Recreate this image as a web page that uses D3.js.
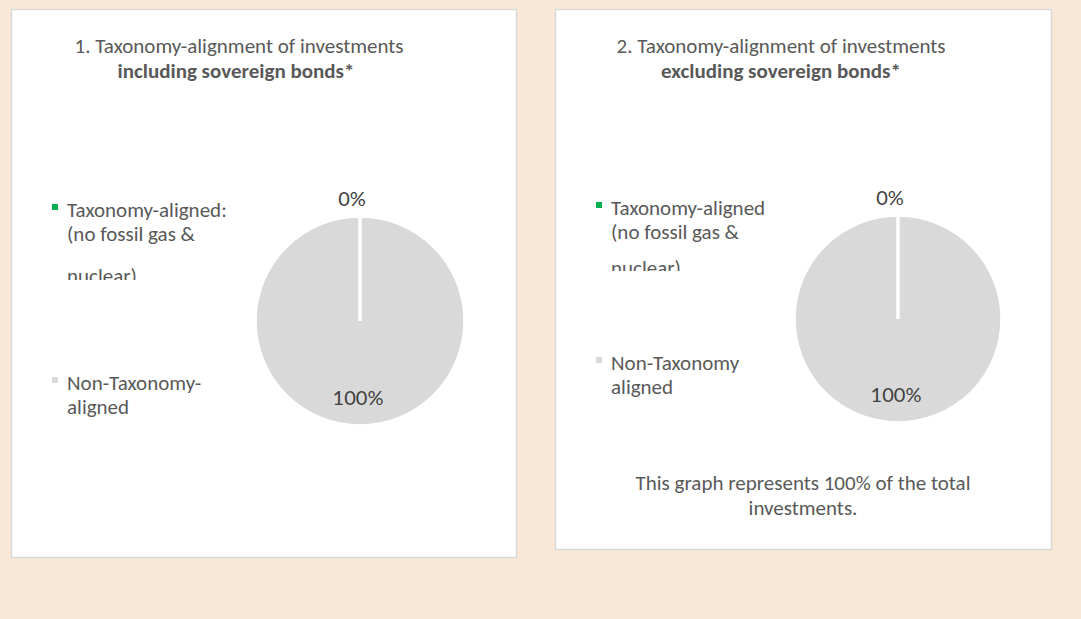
<!DOCTYPE html>
<html>
<head>
<meta charset="utf-8">
<script src="https://cdn.jsdelivr.net/npm/d3@7"></script>
<style>
  html, body { margin: 0; padding: 0; background: #FAE8D7; }
  svg { display: block; }
  text { font-family: Carlito, Calibri, Lato, sans-serif; fill: #595959; }
</style>
</head>
<body>
<svg id="chart" width="1081" height="619"></svg>
<script>

// Chart data
const panelTitles = ["1. Taxonomy-alignment of investments", "2. Taxonomy-alignment of investments"];
const panelSubtitles = ["including sovereign bonds*", "excluding sovereign bonds*"];
const categories = ["Taxonomy-aligned (no fossil gas & nuclear)", "Non-Taxonomy-aligned"];
const valuesIncluding = [0, 100];
const valuesExcluding = [0, 100];
const legendLinesIncluding = [["Taxonomy-aligned:", "(no fossil gas &", "nuclear)"], ["Non-Taxonomy-", "aligned"]];
const legendLinesExcluding = [["Taxonomy-aligned", "(no fossil gas &", "nuclear)"], ["Non-Taxonomy", "aligned"]];
const sliceColours = ["#00B050", "#D9D9D9"];
const footnoteLines = ["This graph represents 100% of the total", "investments."];

// Layout of the two panels
const panels = [
    {
        box: {x: 11, y: 9, w: 505, h: 548},
        title: {x: 239, y: 53}, subtitle: {x: 236, y: 78},
        pie: {cx: 360, cy: 321, r: 105},
        legend: {x: 52, textX: 67, items: [{y: 217, gaps: [0, 24, 66], clip: 280}, {y: 390, gaps: [0, 24]}]},
        values: valuesIncluding, legend_lines: legendLinesIncluding,
        title_text: panelTitles[0], subtitle_text: panelSubtitles[0], footnote: null
    },
    {
        box: {x: 555, y: 9, w: 496, h: 540},
        title: {x: 781, y: 53}, subtitle: {x: 781, y: 78},
        pie: {cx: 898, cy: 319, r: 104},
        legend: {x: 596, textX: 611, items: [{y: 215, gaps: [0, 24, 60], clip: 271}, {y: 370, gaps: [0, 24]}]},
        values: valuesExcluding, legend_lines: legendLinesExcluding,
        title_text: panelTitles[1], subtitle_text: panelSubtitles[1], footnote: {x: 803, y: 490}
    }
];

const fontSize = 21;
const svg = d3.select("#chart");

const pie = d3.pie().sort(null).value(d => d);

panels.forEach((p, pi) => {

    // Panel background
    svg.append("rect")
        .attr("x", p.box.x + 0.5).attr("y", p.box.y + 0.5)
        .attr("width", p.box.w).attr("height", p.box.h)
        .attr("fill", "#FFFFFF")
        .attr("stroke", "#D9D9D9")
        .attr("stroke-width", 1.5);

    // Titles
    svg.append("text")
        .attr("x", p.title.x).attr("y", p.title.y)
        .attr("text-anchor", "middle")
        .style("font-size", fontSize + "px")
        .text(p.title_text);
    svg.append("text")
        .attr("x", p.subtitle.x).attr("y", p.subtitle.y)
        .attr("text-anchor", "middle")
        .style("font-size", fontSize + "px")
        .style("font-weight", "bold")
        .text(p.subtitle_text);

    // Pie (zero slices drawn last so their white edge shows as a line)
    const arcs = pie(p.values);
    const drawOrder = arcs.map((d, i) => ({d, i})).sort((a, b) => b.d.value - a.d.value);
    const arc = d3.arc().innerRadius(0).outerRadius(p.pie.r);
    const labelArc = d3.arc().innerRadius(p.pie.r * 0.73).outerRadius(p.pie.r * 0.73);
    const outerArc = d3.arc().innerRadius(p.pie.r + 17).outerRadius(p.pie.r + 17);
    const g = svg.append("g").attr("transform", `translate(${p.pie.cx}, ${p.pie.cy})`);

    g.selectAll("path")
        .data(drawOrder)
        .join("path")
        .attr("d", o => arc(o.d))
        .attr("fill", o => sliceColours[o.i])
        .attr("stroke", "#FFFFFF")
        .attr("stroke-width", 3.5)
        .attr("stroke-linecap", "round");

    g.selectAll("text.label")
        .data(arcs)
        .join("text")
        .classed("label", true)
        .attr("transform", d => {
            const c = (d.value === 0 ? outerArc : labelArc).centroid(d);
            return `translate(${c[0] + (d.value === 0 ? -8 : -2)}, ${c[1]})`;
        })
        .attr("dy", "0.35em")
        .attr("text-anchor", "middle")
        .style("font-size", "20px")
        .style("font-family", "Lato, sans-serif")
        .style("fill", "#404040")
        .text(d => d3.format(".0f")(d.value) + "%");

    // Legend
    const clipId = `legend-clip-${pi}`;
    p.legend.items.forEach((item, i) => {
        const lg = svg.append("g");
        if (item.clip) {
            svg.append("clipPath").attr("id", clipId)
                .append("rect")
                .attr("x", p.legend.x - 5).attr("y", item.y - 30)
                .attr("width", 230).attr("height", item.clip - (item.y - 30));
            lg.attr("clip-path", `url(#${clipId})`);
        }
        lg.append("rect")
            .attr("x", p.legend.x).attr("y", item.y - 13)
            .attr("width", 6).attr("height", 6)
            .attr("fill", sliceColours[i]);
        lg.append("title").text(categories[i]);
        p.legend_lines[i].forEach((line, j) => {
            lg.append("text")
                .attr("x", p.legend.textX)
                .attr("y", item.y + item.gaps[j])
                .style("font-size", fontSize + "px")
                .text(line);
        });
    });

    // Footnote
    if (p.footnote) {
        footnoteLines.forEach((line, j) => {
            svg.append("text")
                .attr("x", p.footnote.x).attr("y", p.footnote.y + j * 25)
                .attr("text-anchor", "middle")
                .style("font-size", fontSize + "px")
                .text(line);
        });
    }
});
</script>
</body>
</html>
